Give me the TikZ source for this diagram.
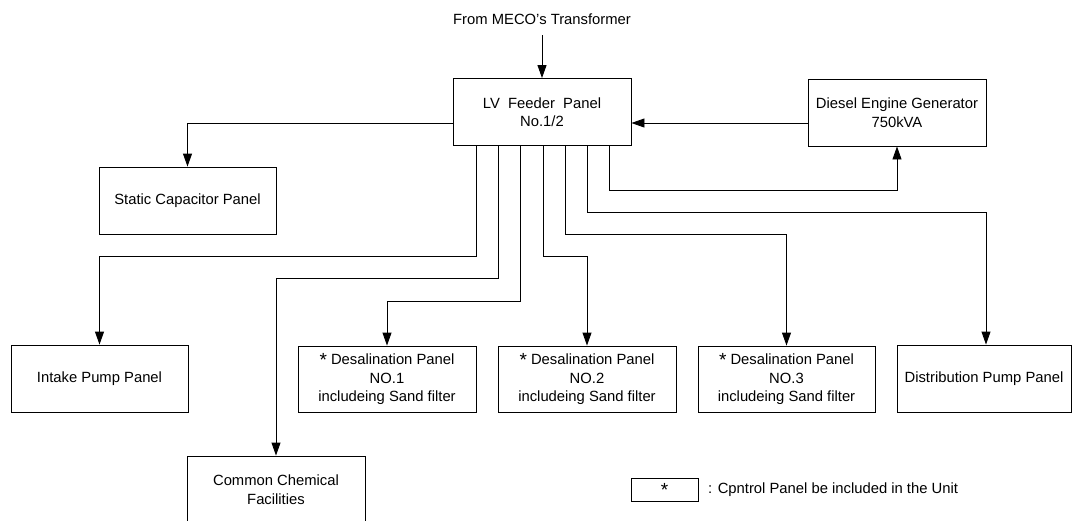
\documentclass[tikz,border=0pt]{standalone}
\usepackage{fontspec}
\setmainfont{Liberation Sans}
\usetikzlibrary{arrows.meta}
\newcommand{\myast}{\raisebox{-1.5pt}{\fontsize{19pt}{19pt}\selectfont *}}
\begin{document}
\begin{tikzpicture}[x=1pt,y=-1pt,
  box/.style={draw, line width=0.9pt, minimum width=178pt, minimum height=67pt, align=center, inner sep=0pt,
    font=\fontsize{14.8pt}{18.5pt}\selectfont},
  lbl/.style={font=\fontsize{14.8pt}{18.5pt}\selectfont, inner sep=0pt},
  arr/.style={line width=0.9pt, -{Triangle[length=13pt,width=9pt]}}]
\useasboundingbox (0,0) rectangle (1072,520);

\node[lbl] (meco) at (542,19) {From MECO’s Transformer};
\coordinate (src) at (542,35);

\node[box] (lv) at (542,112) {LV~ Feeder~ Panel\\No.1/2};
\node[box] (dg) at (897,112.5) {Diesel Engine Generator\\750kVA};
\node[box, minimum width=177pt] (cap) at (187.5,200.5) {Static Capacitor Panel};

\node[box, minimum width=177pt] (intake) at (99.5,378.5) {Intake Pump Panel};
\node[box, minimum height=66pt] (d1) at (387,379) {\myast\ Desalination Panel\\NO.1\\includeing Sand filter};
\node[box, minimum height=66pt] (d2) at (587,379) {\myast\ Desalination Panel\\NO.2\\includeing Sand filter};
\node[box, minimum width=177pt, minimum height=66pt] (d3) at (786.5,379) {\myast\ Desalination Panel\\NO.3\\includeing Sand filter};
\node[box, minimum width=174pt] (dist) at (984,378.5) {Distribution Pump Panel};
\node[box] (chem) at (276,489.5) {Common Chemical\\Facilities};

\node[draw, line width=0.9pt, minimum width=67pt, minimum height=23pt, inner sep=0pt,
  font=\fontsize{14.8pt}{18.5pt}\selectfont] (leg) at (664.5,489.5) {\myast};
\node[lbl, anchor=west] (legt) at (708,489.5) {: Cpntrol Panel be included in the Unit};

% connectors
\draw[arr] (src) -- (lv.north);
\draw[arr] (dg.west |- 0,123) -- (lv.east |- 0,123);
\draw[arr] (lv.west |- 0,123) -| (cap.north);
\draw[arr] (lv.south -| 609,0) |- (897,190) -- (dg.south);
\draw[arr] (lv.south -| 587,0) |- (986,212) -- (dist.north -| 986,0);
\draw[arr] (lv.south -| 565,0) |- (786.5,234) -- (d3.north);
\draw[arr] (lv.south -| 543,0) |- (587,256) -- (d2.north);
\draw[arr] (lv.south -| 520,0) |- (387,301) -- (d1.north);
\draw[arr] (lv.south -| 498,0) |- (276,278) -- (chem.north);
\draw[arr] (lv.south -| 476,0) |- (99.5,256) -- (intake.north);
\end{tikzpicture}
\end{document}
